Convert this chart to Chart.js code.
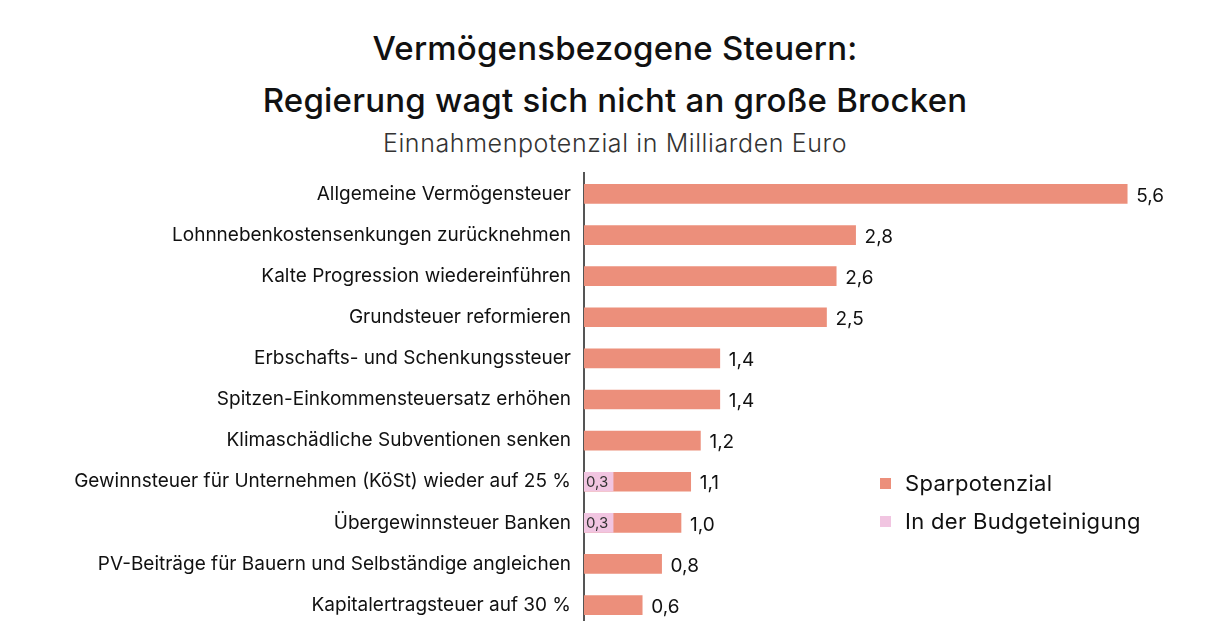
<!DOCTYPE html>
<html lang="de">
<head>
<meta charset="utf-8">
<title>Vermögensbezogene Steuern</title>
<script src="https://cdn.jsdelivr.net/npm/chart.js@4/dist/chart.umd.min.js"></script>
<style>
  html, body { margin: 0; padding: 0; background: #fff; overflow: hidden; }
  body { width: 1210px; height: 621px; position: relative; font-family: Inter, "Noto Sans", sans-serif; color: #111; }
  .title { position: absolute; left: 0; width: 1230px; text-align: center; font-weight: 500; font-size: 33px; letter-spacing: 0.2px; }
  #t1 { top: 28px; }
  #t2 { top: 80px; }
  #sub { position: absolute; top: 128px; left: 0; width: 1230px; text-align: center; font-size: 25px; font-weight: 300; color: #333; letter-spacing: 0.6px; }
  #wrap { position: absolute; left: 0; top: 157px; width: 1210px; height: 485px; }
  #legend { position: absolute; left: 880px; top: 464px; font-size: 22px; letter-spacing: 0.3px; }
  #legend div { display: flex; align-items: center; height: 38px; }
  #legend span.box { display: inline-block; width: 11px; height: 11px; margin-right: 14px; }
</style>
</head>
<body>
<div class="title" id="t1">Vermögensbezogene Steuern:</div>
<div class="title" id="t2">Regierung wagt sich nicht an große Brocken</div>
<div id="sub">Einnahmenpotenzial in Milliarden Euro</div>
<div id="wrap"><canvas id="c"></canvas></div>
<div id="legend"></div>
<script>
const categories = [
  'Allgemeine Vermögensteuer',
  'Lohnnebenkostensenkungen zurücknehmen',
  'Kalte Progression wiedereinführen',
  'Grundsteuer reformieren',
  'Erbschafts- und Schenkungssteuer',
  'Spitzen-Einkommensteuersatz erhöhen',
  'Klimaschädliche Subventionen senken',
  'Gewinnsteuer für Unternehmen (KöSt) wieder auf 25 %',
  'Übergewinnsteuer Banken',
  'PV-Beiträge für Bauern und Selbständige angleichen',
  'Kapitalertragsteuer auf 30 %'
];
const sparpotenzial = [5.6, 2.8, 2.6, 2.5, 1.4, 1.4, 1.2, 1.1, 1.0, 0.8, 0.6];
const budgeteinigung = [null, null, null, null, null, null, null, 0.3, 0.3, null, null];

const SALMON = '#ec8f7b';
const PINK = '#f1c5e1';
const FONT = 'Inter, "Noto Sans", sans-serif';

const fmt = v => v.toLocaleString('de-AT', { minimumFractionDigits: 1, maximumFractionDigits: 1 });

const valueLabels = {
  id: 'valueLabels',
  afterDatasetsDraw(chart) {
    const ctx = chart.ctx;
    ctx.save();
    ctx.textBaseline = 'middle';
    ctx.textAlign = 'left';
    chart.data.datasets.forEach((ds, di) => {
      const meta = chart.getDatasetMeta(di);
      meta.data.forEach((bar, i) => {
        const v = ds.data[i];
        if (v == null) return;
        if (ds.inside) {
          ctx.font = '400 15px ' + FONT;
          ctx.fillStyle = '#333';
          ctx.fillText(fmt(v), bar.base + 2, bar.y + 1);
        } else {
          ctx.font = '400 19px ' + FONT;
          ctx.fillStyle = '#111';
          ctx.fillText(fmt(v), bar.x + 9, bar.y + 2);
        }
      });
    });
    ctx.restore();
  }
};

const chart = new Chart(document.getElementById('c'), {
  type: 'bar',
  data: {
    labels: categories,
    datasets: [
      { label: 'Sparpotenzial', data: sparpotenzial, backgroundColor: SALMON, order: 2 },
      { label: 'In der Budgeteinigung', data: budgeteinigung, backgroundColor: PINK, order: 1, inside: true }
    ]
  },
  options: {
    indexAxis: 'y',
    responsive: true,
    maintainAspectRatio: false,
    animation: false,
    layout: { padding: { top: 2, bottom: 4, right: 44, left: 0 } },
    datasets: { bar: { grouped: false, barThickness: 19 } },
    plugins: { legend: { display: false }, tooltip: { enabled: false } },
    scales: {
      x: { display: false, min: 0, max: 6 },
      y: {
        grid: { display: false },
        border: { display: true, color: '#555', width: 2 },
        ticks: { color: '#111', padding: 5, font: { family: FONT, size: 19 } },
        afterFit(scale) { scale.width = 584; }
      }
    }
  },
  plugins: [valueLabels]
});

// legend built from the datasets
const legendEl = document.getElementById('legend');
chart.data.datasets.forEach(ds => {
  const row = document.createElement('div');
  const box = document.createElement('span');
  box.className = 'box';
  box.style.background = ds.backgroundColor;
  row.appendChild(box);
  row.appendChild(document.createTextNode(ds.label));
  legendEl.appendChild(row);
});
</script>
</body>
</html>
